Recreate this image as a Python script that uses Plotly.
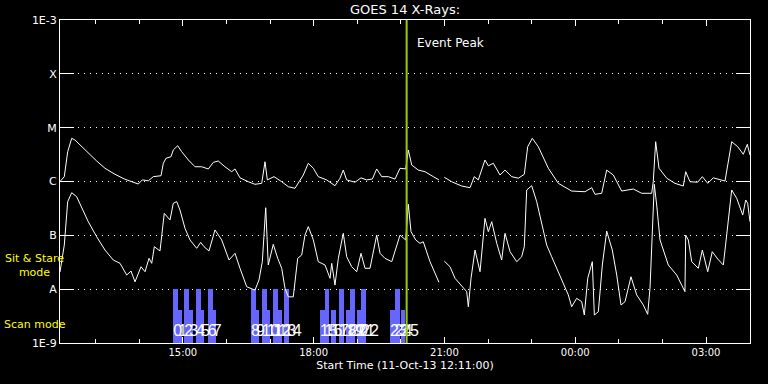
import plotly.graph_objects as go
import pandas as pd

START = pd.Timestamp("2013-10-11 12:11:00")
END_MIN = 949.5
EVENT_PEAK = "2013-10-11 20:08:00"

# GOES long channel (1-8 A): minutes after start, flux W/m^2
long_t = [0, 5.9, 10.6, 16.1, 20.6, 29.9, 38.9, 50.5, 61.9, 75.7,
          89.4, 100.9, 107.7, 113.3, 121.5, 128.4, 139, 142.2, 145.9, 152.7,
          155.9, 162, 167.5, 176.6, 185.8, 195, 204.1, 211, 217.8, 227,
          236.3, 240.8, 247.7, 259.1, 268.3, 277.6, 282.1, 285.3, 294.5, 305.1,
          314.2, 323.4, 327.9, 334.8, 341.7, 348.6, 355.4, 367, 378.4, 385.3,
          389.8, 394.5, 406, 414.2, 422, 429.8, 435.8, 442.7, 451.8, 461,
          467.9, 475.7, 479.3, 484, 493.1, 502.3, 513.7, 521.5, 525, 528.8,
          539, 552.8, 564.2, 570.1, 575.6, 584.8, 589.4, 596.3, 605.5, 612.4,
          621.6, 630.7, 638.9, 643.6, 649.9, 658.2, 672, 685.7, 704.1, 722.4,
          731.7, 736.2, 745.4, 752.3, 761.4, 772.9, 788.9, 800.5, 814.2, 816.4,
          819.7, 824.3, 834.9, 846.3, 857.7, 861, 866.9, 877.5, 883.9, 891.3,
          899, 915.1, 924.3, 932.6, 940.3, 945.8, 949.5]
long_flux = [1.0e-6, 1.23e-6, 3.57e-6, 6.34e-6, 5.9e-6, 4.43e-6, 3.34e-6, 2.40e-6, 1.76e-6, 1.36e-6,
             1.10e-6, 9.7e-7, 8.98e-7, 1.07e-6, 1.03e-6, 1.23e-6, 1.28e-6, 2.18e-6, 2.70e-6, 2.89e-6,
             3.85e-6, 4.62e-6, 3.57e-6, 2.51e-6, 1.88e-6, 1.88e-6, 1.71e-6, 2.27e-6, 2.40e-6, 1.88e-6,
             1.52e-6, 1.71e-6, 1.17e-6, 9.9e-7, 8.87e-7, 9.25e-7, 2.33e-6, 1.07e-6, 1.23e-6, 9.9e-7,
             8.0e-7, 7.48e-7, 9.25e-7, 1.32e-6, 2.18e-6, 1.76e-6, 1.23e-6, 1.07e-6, 8.35e-7, 1.15e-6,
             1.63e-6, 1.07e-6, 9.7e-7, 1.17e-6, 1.07e-6, 1.11e-6, 1.71e-6, 1.23e-6, 1.23e-6, 1.11e-6,
             1.76e-6, 1.71e-6, 3.85e-6, 2.02e-6, 1.63e-6, 1.52e-6, 1.23e-6, 1.07e-6, None, 1.20e-6,
             9.9e-7, 8.24e-7, 7.67e-7, 1.23e-6, 1.07e-6, 2.51e-6, 1.96e-6, 2.18e-6, 1.32e-6, 1.63e-6,
             1.23e-6, 1.15e-6, 1.36e-6, 4.43e-6, 6.34e-6, 4.43e-6, 1.76e-6, 9.25e-7, 6.65e-7, 6.46e-7,
             7.67e-7, 5.78e-7, 6.04e-7, 1.63e-6, 1.32e-6, 6.65e-7, 7.25e-7, 6.04e-7, 6.04e-7, 9.9e-7,
             5.48e-6, 1.76e-6, 1.15e-6, 9.25e-7, 8.24e-7, 1.52e-6, 9.9e-7, 9.7e-7, 1.23e-6, 9.25e-7,
             1.17e-6, 1.02e-6, 5.48e-6, 4.43e-6, 3.2e-6, 4.91e-6, 3.1e-6]

# GOES short channel (0.5-4 A)
short_t = [0, 5.9, 10.6, 16.1, 23, 29.9, 38.9, 50.5, 61.9, 73.3,
           82.6, 91.8, 97.7, 103.2, 111.5, 117, 122.5, 126.2, 129.8, 137.6,
           143.5, 151.4, 155.9, 160.6, 165.1, 172, 178.9, 188.1, 193.6, 198.2,
           205, 213.3, 222.5, 232.6, 240.8, 247.7, 256.9, 268.3, 273.8, 278.4,
           283.1, 286.6, 293.5, 299.6, 305.1, 309.6, 314.2, 321, 327.1, 332.6,
           337.1, 341.7, 348.6, 355.4, 364.7, 371.6, 373.9, 378.4, 383, 389.8,
           394.5, 401.4, 408.3, 414.2, 419.7, 426.6, 435.8, 440.4, 447.2, 456.5,
           461, 467.9, 475.7, 479.3, 483, 489.5, 495.4, 499.9, 509.2, 521.5,
           525, 528.8, 536.7, 543.6, 555, 559.7, 561.9, 565.6, 571.1, 578,
           584.8, 589.4, 594.1, 601, 607.8, 612.4, 619.3, 628.5, 635.3, 638.9,
           642.2, 649.1, 656, 662.9, 669.7, 676.6, 685.7, 692.6, 699.5, 704.1,
           711, 717.9, 721.5, 726.2, 732.5, 735.3, 740.8, 746.3, 752.3, 760,
           766.1, 772, 777.5, 785.7, 793.6, 802.7, 808.7, 811.9, 817.8, 821.1,
           825.7, 837.1, 848.6, 855.5, 860, 861, 864.6, 869.3, 878.4, 883.9,
           891.3, 897.6, 905.1, 912.8, 918.8, 924.3, 931.2, 939.5, 943.6, 946.3,
           949.5]
short_flux = [2.08e-8, 6.6e-8, 4.22e-7, 6.19e-7, 5.21e-7, 3.18e-7, 1.79e-7, 9.4e-8, 5.33e-8, 3.48e-8,
              3.02e-8, 1.83e-8, 2.17e-8, 1.37e-8, 2.61e-8, 2.11e-8, 3.74e-8, 3.02e-8, 6.15e-8, 5.12e-8,
              2.56e-7, 1.93e-7, 3.94e-7, 4.22e-7, 2.95e-7, 1.35e-7, 8.2e-8, 5.74e-8, 7.4e-8, 6.15e-8,
              5.12e-8, 1.26e-7, 8.2e-8, 3.48e-8, 4.63e-8, 2.44e-8, 1.11e-8, 9.6e-9, 1.48e-8, 3.24e-8,
              3.26e-7, 2.81e-8, 6.8e-8, 3.74e-8, 2.44e-8, 1.04e-8, 7.2e-9, 7.2e-9, 3.74e-8, 4.31e-8,
              1.01e-7, 1.45e-7, 8.2e-8, 3.24e-8, 2.81e-8, 1.59e-8, 3.02e-8, 1.19e-8, 3.74e-8, 1.09e-7,
              4.0e-8, 2.61e-8, 2.11e-8, 4.63e-8, 2.44e-8, 2.44e-8, 1.01e-7, 4.63e-8, 3.74e-8, 3.24e-8,
              4.97e-8, 1.01e-7, 8.2e-8, 3.77e-7, 1.17e-7, 8.2e-8, 7.1e-8, 7.6e-8, 3.24e-8, 1.34e-8,
              None, 3.33e-8, 2.61e-8, 1.59e-8, 1.04e-8, 8.97e-9, 4.72e-9, 1.59e-8, 5.33e-8, 2.11e-8,
              2.07e-7, 1.17e-7, 1.79e-7, 7.1e-8, 3.48e-8, 1.09e-7, 4.97e-8, 3.24e-8, 4.0e-8, 6.15e-8,
              6.95e-7, 8.35e-7, 4.22e-7, 1.56e-7, 6.6e-8, 4.0e-8, 2.11e-8, 1.37e-8, 7.8e-9, 4.72e-9,
              6.76e-9, 5.85e-9, 3.31e-9, 1.59e-8, 3.24e-8, 3.31e-9, 3.81e-9, 2.81e-8, 1.20e-7, 5.33e-8,
              1.83e-8, 5.08e-9, 5.85e-9, 1.70e-8, 7.8e-9, 5.08e-9, 3.41e-9, 1.04e-8, 8.87e-7, 3.66e-7,
              8.2e-8, 2.81e-8, 1.83e-8, 1.19e-8, 8.97e-9, 1.01e-7, 8.2e-8, 3.24e-8, 2.44e-8, 5.33e-8,
              2.11e-8, 4.97e-8, 3.63e-8, 2.81e-8, 1.56e-7, 6.95e-7, 4.88e-7, 2.38e-7, 4.53e-7, 3.94e-7,
              1.79e-7]

# Observation windows (minutes after start), mode level
scan_start = [155.9, 162.8, 171, 177.9, 187.1, 194, 203.2, 210.1,
              262.8, 269.7, 277.6, 284.4, 293.5, 300.4, 308.2,
              357.8, 364, 372.9, 383.9, 393.6, 399.1, 408.7, 414.2,
              454.1, 460.3, 469.3]
scan_end = [162.8, 167.5, 177.9, 183, 194, 198.6, 210.1, 214.7,
            269.7, 274.3, 284.4, 289, 300.4, 305.1, 315.1,
            364, 370.6, 379.8, 390.8, 399.1, 406, 414.2, 421.1,
            460.3, 467.2, 475.4]
scan_level = [1e-8, 4.1e-9] * 13
scan_labels = [str(i) for i in range(26)]

y_tickvals = [1e-9, 1e-8, 1e-7, 1e-6, 1e-5, 1e-4, 1e-3]
y_ticktext = ["1E-9", "A", "B", "C", "M", "X", "1E-3"]

BASE = 1e-9
FONT = "DejaVu Sans, Liberation Sans, sans-serif"


def to_time(mins):
    return [START + pd.Timedelta(minutes=m) for m in mins]


fig = go.Figure()

starts = to_time(scan_start)
ends = to_time(scan_end)
centers = [s + (e - s) / 2 for s, e in zip(starts, ends)]
widths = [(e - s).total_seconds() * 1000 for s, e in zip(starts, ends)]
fig.add_trace(go.Bar(
    x=centers, y=[lv - BASE for lv in scan_level], base=BASE, width=widths,
    marker=dict(color="#6666ff", line=dict(width=0)), showlegend=False,
    hoverinfo="skip",
))

fig.add_trace(go.Scatter(
    x=to_time(long_t), y=long_flux, mode="lines",
    line=dict(color="white", width=1), showlegend=False, connectgaps=False,
))
fig.add_trace(go.Scatter(
    x=to_time(short_t), y=short_flux, mode="lines",
    line=dict(color="white", width=1), showlegend=False, connectgaps=False,
))

fig.add_trace(go.Scatter(
    x=starts, y=[1.57e-9] * len(starts), mode="text", text=scan_labels,
    textposition="middle right",
    textfont=dict(color="white", size=16, family="Liberation Sans Narrow, Liberation Sans, sans-serif"),
    showlegend=False, hoverinfo="skip",
))

fig.add_shape(type="line", x0=EVENT_PEAK, x1=EVENT_PEAK, xref="x",
              y0=0, y1=1, yref="paper", line=dict(color="#99cc00", width=2), layer="above")

fig.add_annotation(text="Event Peak", x=EVENT_PEAK, xref="x", xshift=8, xanchor="left",
                   y=0.929, yref="paper", yanchor="middle", showarrow=False,
                   font=dict(color="white", size=12, family=FONT))
fig.add_annotation(text="Sit & Stare<br>mode", x=-0.037, xref="paper", xanchor="center",
                   y=(343 - 265) / 323, yref="paper", yanchor="middle", showarrow=False,
                   font=dict(color="#ffff00", size=11, family=FONT), align="center")
fig.add_annotation(text="Scan mode", x=-0.084, xref="paper", xanchor="left",
                   y=(343 - 324) / 323, yref="paper", yanchor="middle", showarrow=False,
                   font=dict(color="#ffff00", size=11, family=FONT))

fig.update_layout(
    width=768, height=384,
    margin=dict(l=60, r=18, t=20, b=41, autoexpand=False),
    paper_bgcolor="black", plot_bgcolor="black",
    font=dict(color="white", family=FONT, size=11),
    title=dict(text="GOES 14 X-Rays:", x=0.5, xref="paper", xanchor="center",
               y=1 - 9 / 384, yref="container", yanchor="middle",
               font=dict(color="white", size=13, family=FONT)),
    bargap=0, showlegend=False,
)

fig.update_xaxes(
    type="date",
    range=[START, START + pd.Timedelta(minutes=END_MIN)],
    tickformat="%H:%M", dtick=3 * 3600000, tick0="2013-10-11 15:00",
    ticks="inside", ticklen=6, tickcolor="white", tickwidth=1,
    minor=dict(dtick=3600000, tick0="2013-10-11 13:00", ticks="inside", ticklen=4,
               tickcolor="white", showgrid=False),
    showline=True, linecolor="white", linewidth=1, mirror="ticks",
    showgrid=False, zeroline=False,
    tickfont=dict(color="white", size=10, family=FONT),
    title=dict(text="Start Time (11-Oct-13 12:11:00)", standoff=4,
               font=dict(color="white", size=11, family=FONT)),
)

fig.update_yaxes(
    type="log", range=[-9, -3],
    tickvals=y_tickvals, ticktext=y_ticktext,
    ticks="inside", ticklen=14, tickcolor="white", tickwidth=1,
    showline=True, linecolor="white", linewidth=1, mirror="ticks",
    showgrid=True, gridcolor="white", gridwidth=1, griddash="1px,5px",
    zeroline=False,
    tickfont=dict(color="white", size=11, family=FONT),
)

fig.write_html("out.html", config={"displayModeBar": False},
               post_script="document.body.style.margin='0px';")
